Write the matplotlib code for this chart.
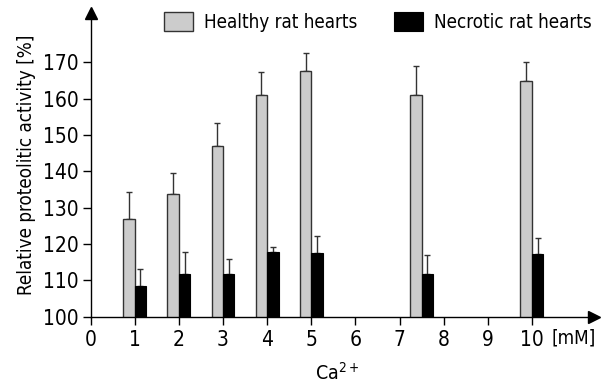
import matplotlib.pyplot as plt
import numpy as np

plt.rcParams['font.family'] = ['DejaVu Sans']
plt.rcParams['font.stretch'] = 'condensed'
plt.rcParams['mathtext.fontset'] = 'custom'
plt.rcParams['mathtext.rm'] = 'DejaVu Sans:stretch=condensed'

conc = [1, 2, 3, 4, 5, 7.5, 10]
healthy = [126.9, 133.8, 147.1, 161.1, 167.5, 161.0, 165.0]
healthy_err = [7.5, 5.8, 6.3, 6.2, 5.1, 8.1, 5.0]
necrotic = [108.5, 111.9, 111.8, 117.8, 117.6, 111.8, 117.3]
necrotic_err = [4.6, 5.8, 4.1, 1.5, 4.7, 5.1, 4.3]

fig = plt.figure(figsize=(6.04, 3.83), dpi=100)
ax = fig.add_axes([0.150, 0.173, 0.833, 0.794])

x = np.array(conc)
w = 0.26
edge = '#333333'
ax.bar(x - w / 2, healthy, w, color='#cccccc', edgecolor=edge, linewidth=1.0,
       label='Healthy rat hearts', zorder=2)
ax.bar(x + w / 2, necrotic, w, color='black', edgecolor='black', linewidth=0.8,
       label='Necrotic rat hearts', zorder=2)
ax.errorbar(x - w / 2, healthy, yerr=[np.zeros(len(x)), healthy_err], fmt='none',
            ecolor=edge, elinewidth=1.0, capsize=2.2, capthick=1.0, zorder=1)
ax.errorbar(x + w / 2, necrotic, yerr=[np.zeros(len(x)), necrotic_err], fmt='none',
            ecolor=edge, elinewidth=1.0, capsize=2.2, capthick=1.0, zorder=1)

ax.set_xlim(0, 11.4)
ax.set_ylim(100, 183.7)
ax.set_xticks(range(0, 11))
ax.set_yticks(range(100, 171, 10))
ax.tick_params(axis='both', labelsize=15, width=1, length=5.5, color='black')
ax.tick_params(axis='x', pad=4)
ax.tick_params(axis='y', pad=3)
for s in ['top', 'right']:
    ax.spines[s].set_visible(False)
for s in ['left', 'bottom']:
    ax.spines[s].set_linewidth(1.0)

# arrow heads
ax.plot(1, 0, '>k', markersize=9, transform=ax.transAxes, clip_on=False)
ax.plot(0, 1, '^k', markersize=9, transform=ax.transAxes, clip_on=False)

ax.set_ylabel('Relative proteolitic activity [%]', fontsize=13.5, labelpad=5)
ax.set_xlabel('Ca$^{2+}$', fontsize=14, labelpad=4)
ax.xaxis.set_label_coords(0.49, -0.15)
ax.text(10.45, 96.9, '[mM]', fontsize=13.5, ha='left', va='top')

ax.legend(ncol=2, frameon=False, fontsize=13.5, loc='center right',
          bbox_to_anchor=(592 / 604, 1 - 22 / 383), bbox_transform=fig.transFigure,
          borderpad=0, borderaxespad=0, handlelength=1.55, handleheight=1.12,
          columnspacing=1.97, handletextpad=0.59)

fig.savefig('out.png', dpi=100)
